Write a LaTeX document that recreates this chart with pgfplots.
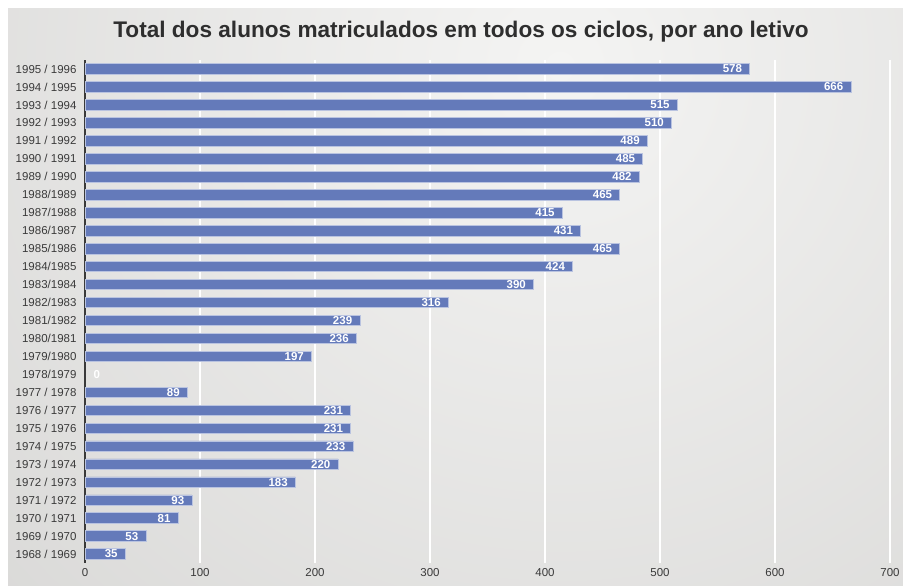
\documentclass[border=0pt]{standalone}
\usepackage{fontspec}
\setmainfont{Liberation Sans}
\usepackage{pgfplots}
\pgfplotsset{compat=1.18}
\definecolor{barblue}{RGB}{100,122,186}
\definecolor{txtgray}{RGB}{58,58,58}
\definecolor{bginner}{RGB}{244,244,243}
\definecolor{bgouter}{RGB}{194,193,191}
\begin{document}
\begin{tikzpicture}[x=1pt,y=1pt]
\useasboundingbox (0,0) rectangle (903,586);
\fill[white] (0,0) rectangle (903,586);
\begin{scope}
\clip (8,0) rectangle (903,577);
\shade[inner color=bginner, outer color=bgouter] (560,520) circle (1500);
\end{scope}
\node[font=\bfseries\fontsize{22.6}{26}\selectfont, text=black!82] at (461,554) {Total dos alunos matriculados em todos os ciclos, por ano letivo};
\begin{axis}[
  at={(85pt,31.98pt)}, anchor=origin,
  scale only axis, width=805pt, height=503pt,
  xbar, bar width=10.5pt, bar shift=0pt,
  xmin=0, xmax=700, ymin=-0.5, ymax=27.5,
  axis x line*=bottom, axis y line*=left,
  x axis line style={draw=none},
  y axis line style={draw=txtgray, line width=2pt},
  xtick={0,100,...,700},
  ytick={0,...,27},
  yticklabels={1968 / 1969,1969 / 1970,1970 / 1971,1971 / 1972,1972 / 1973,1973 / 1974,1974 / 1975,1975 / 1976,1976 / 1977,1977 / 1978,1978/1979,1979/1980,1980/1981,1981/1982,1982/1983,1983/1984,1984/1985,1985/1986,1986/1987,1987/1988,1988/1989,1989 / 1990,1990 / 1991,1991 / 1992,1992 / 1993,1993 / 1994,1994 / 1995,1995 / 1996},
  xmajorgrids, grid style={white, line width=1.5pt},
  major tick length=0pt,
  tick style={draw=none},
  ticklabel style={font=\fontsize{11.5}{13}\selectfont, text=txtgray},
  y tick label style={xshift=-5pt},
  x tick label style={yshift=-2pt},
  /pgf/number format/assume math mode=true,
]
\addplot[fill=barblue, draw=white!55!barblue, line width=0.7pt, bar shift=0pt,
  nodes near coords,
  nodes near coords style={font=\bfseries\fontsize{11.5}{13}\selectfont, text=white, anchor=east, xshift=-4pt}]
  coordinates {
(35,0) (53,1) (81,2) (93,3) (183,4) (220,5) (233,6) (231,7) (231,8) (89,9)
(197,11) (236,12) (239,13) (316,14) (390,15) (424,16) (465,17) (431,18) (415,19)
(465,20) (482,21) (485,22) (489,23) (510,24) (515,25) (666,26) (578,27)
};
\addplot[draw=none, fill=none, bar shift=0pt,
  nodes near coords,
  nodes near coords style={font=\bfseries\fontsize{11.5}{13}\selectfont, text=white, anchor=west, xshift=5pt}]
  coordinates {(0,10)};
\end{axis}
\end{tikzpicture}
\end{document}
